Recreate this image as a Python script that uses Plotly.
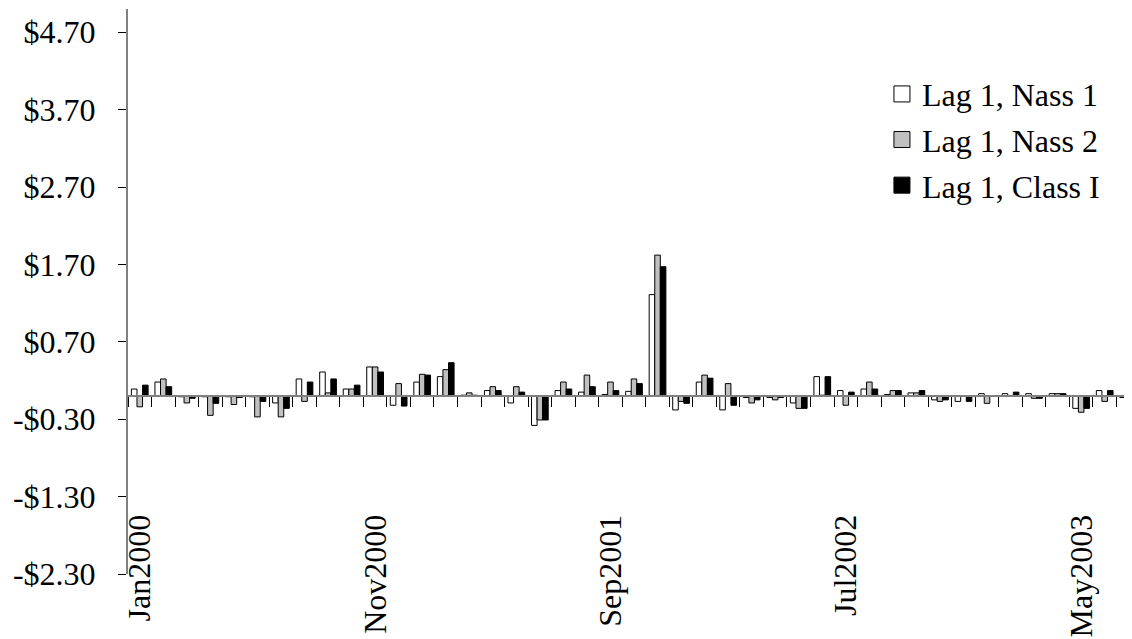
import plotly.graph_objects as go

months = [
    "Jan2000", "Feb2000", "Mar2000", "Apr2000", "May2000", "Jun2000", "Jul2000", "Aug2000", "Sep2000", "Oct2000",
    "Nov2000", "Dec2000", "Jan2001", "Feb2001", "Mar2001", "Apr2001", "May2001", "Jun2001", "Jul2001", "Aug2001",
    "Sep2001", "Oct2001", "Nov2001", "Dec2001", "Jan2002", "Feb2002", "Mar2002", "Apr2002", "May2002", "Jun2002",
    "Jul2002", "Aug2002", "Sep2002", "Oct2002", "Nov2002", "Dec2002", "Jan2003", "Feb2003", "Mar2003", "Apr2003",
    "May2003", "Jun2003", "Jul2003",
]

lag1_nass1 = [
    0.09, 0.18, -0.01, -0.01, -0.01, -0.01, -0.09, 0.22, 0.31, 0.09,
    0.375, -0.12, 0.18, 0.25, 0.01, 0.07, -0.09, -0.38, 0.07, 0.05,
    0.02, 0.06, 1.31, -0.18, 0.18, -0.18, -0.02, -0.02, -0.09, 0.25,
    0.07, 0.09, 0.02, 0.04, -0.05, -0.07, 0.03, 0.03, 0.03, 0.03,
    -0.16, 0.07, -0.02,
]
lag1_nass2 = [
    -0.14, 0.22, -0.09, -0.25, -0.11, -0.27, -0.27, -0.07, 0.04, 0.09,
    0.375, 0.16, 0.28, 0.34, 0.04, 0.12, 0.12, -0.31, 0.18, 0.27,
    0.18, 0.22, 1.82, -0.07, 0.27, 0.16, -0.09, -0.05, -0.16, 0.01,
    -0.12, 0.18, 0.07, 0.04, -0.07, 0.0, -0.095, 0.0, -0.03, 0.03,
    -0.21, -0.07, -0.11,
]
lag1_class1 = [
    0.14, 0.12, -0.03, -0.095, -0.02, -0.07, -0.16, 0.18, 0.22, 0.14,
    0.31, -0.13, 0.27, 0.43, 0.01, 0.07, 0.05, -0.31, 0.09, 0.12,
    0.07, 0.16, 1.67, -0.095, 0.23, -0.12, -0.05, -0.02, -0.16, 0.25,
    0.05, 0.09, 0.07, 0.07, -0.05, -0.07, 0.0, 0.05, -0.03, 0.03,
    -0.16, 0.07, 0.0,
]

series_names = ["Lag 1, Nass 1", "Lag 1, Nass 2", "Lag 1, Class I"]
series_colors = ["#FFFFFF", "#C0C0C0", "#000000"]
series_values = [lag1_nass1, lag1_nass2, lag1_class1]

x_label_months = ["Jan2000", "Nov2000", "Sep2001", "Jul2002", "May2003"]
y_tick_vals = [-2.3, -1.3, -0.3, 0.7, 1.7, 2.7, 3.7, 4.7]
y_tick_text = ["-$2.30", "-$1.30", "-$0.30", "$0.70", "$1.70", "$2.70", "$3.70", "$4.70"]

FONT = "Liberation Serif, Times New Roman, serif"
FS = 32
y_min, y_max = -2.3, 5.0

fig = go.Figure()
for name, color, vals in zip(series_names, series_colors, series_values):
    fig.add_trace(go.Bar(
        x=months, y=vals, name=name,
        marker=dict(color=color, line=dict(color="black", width=1)),
        legendgroup=name, showlegend=False,
    ))
    # legend entry with a larger square swatch
    fig.add_trace(go.Scatter(
        x=[months[0]], y=[None], name=name, mode="markers",
        marker=dict(symbol="square", size=16, color=color, line=dict(color="black", width=1)),
        legendgroup=name, showlegend=True, hoverinfo="skip",
    ))

# helper trace for the low category-label axis
fig.add_trace(go.Scatter(
    x=months, y=[None] * len(months), xaxis="x2", mode="markers",
    showlegend=False, hoverinfo="skip", marker=dict(opacity=0),
))

zero_pos = (0 - y_min) / (y_max - y_min)

fig.update_layout(
    width=1132, height=639,
    margin=dict(l=120, r=0, t=1, b=73),
    paper_bgcolor="white", plot_bgcolor="white",
    font=dict(family=FONT, size=FS, color="black"),
    barmode="group", bargap=0.29, bargroupgap=0,
    showlegend=True,
    legend=dict(
        x=0.745, y=0.898, xanchor="left", yanchor="top",
        font=dict(family=FONT, size=FS, color="black"),
        bgcolor="rgba(0,0,0,0)", traceorder="grouped", tracegroupgap=1,
    ),
    xaxis=dict(
        type="category", range=[-0.5, len(months) - 0.5],
        anchor="free", position=zero_pos,
        showline=True, linecolor="#808080", linewidth=2,
        ticks="outside", tickson="boundaries", ticklen=10, tickcolor="black", tickwidth=1,
        showticklabels=False, showgrid=False, zeroline=False,
    ),
    xaxis2=dict(
        type="category", range=[-0.5, len(months) - 0.5],
        overlaying="x", anchor="free", position=0.118,
        tickmode="array", tickvals=x_label_months, ticktext=x_label_months,
        tickangle=-90, ticks="", showline=False, showgrid=False, zeroline=False,
        tickfont=dict(family=FONT, size=FS, color="black"),
    ),
    yaxis=dict(
        range=[y_min, y_max], tickmode="array", tickvals=y_tick_vals, ticktext=y_tick_text,
        showline=True, linecolor="#808080", linewidth=2,
        ticks="outside", ticklen=8, tickcolor="black", tickwidth=1,
        showgrid=False, zeroline=False, ticklabelstandoff=16,
        tickfont=dict(family=FONT, size=FS, color="black"),
    ),
)

fig.write_html("out.html")
